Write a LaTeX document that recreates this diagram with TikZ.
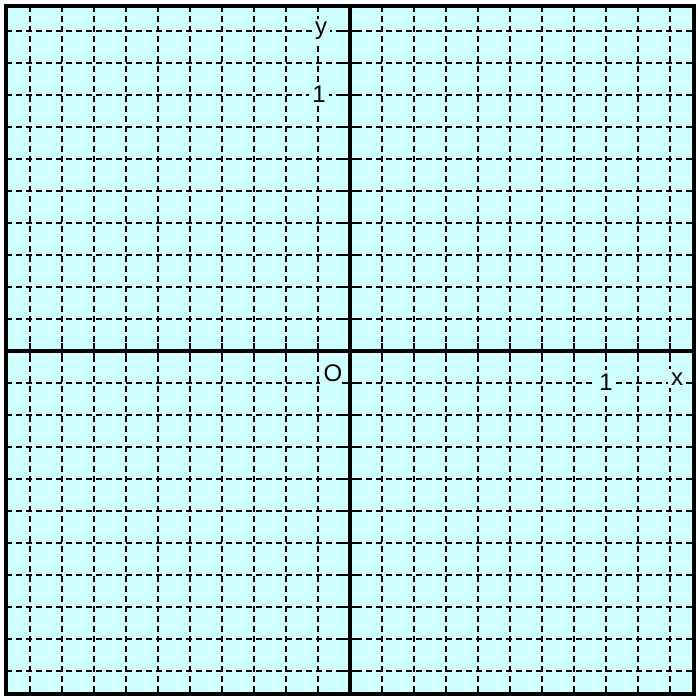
\documentclass[tikz,border=0pt]{standalone}
\usepackage{fontspec}
\setmainfont{Liberation Sans}
\definecolor{bgcyan}{RGB}{208,255,255}
\begin{document}
\begin{tikzpicture}[x=0.75pt,y=-0.75pt,
  gridline/.style={line width=1.9pt, dash pattern=on 4.5pt off 3pt},
  axisline/.style={line width=2.6pt},
  tickline/.style={line width=2.2pt},
  framebox/.style={line width=2.6pt},
  lbl/.style={fill=bgcyan, inner sep=2.5pt, anchor=base, font=\fontsize{18}{21}\selectfont}]
\useasboundingbox (0,0) rectangle (698,695);
\fill[bgcyan] (6,6) rectangle (694,694);
% grid
\foreach \k in {-10,...,10} {
  \draw[gridline] ({350+32*\k},6) -- ({350+32*\k},694);
  \draw[gridline] (6,{351+32*\k}) -- (694,{351+32*\k});
}
% labels
\node[lbl] (ylab) at (321,35) {y};
\node[lbl] (yone) at (319,103) {1};
\node[lbl] (orig) at (333,381) {O};
\node[lbl] (xone) at (606,390) {1};
\node[lbl] (xlab) at (677,385) {x};
% axes
\coordinate (xl) at (6,351);
\coordinate (xr) at (694,351);
\coordinate (yt) at (350,6);
\coordinate (yb) at (350,694);
\draw[axisline] (xl) -- (xr);
\draw[axisline] (yt) -- (yb);
% ticks
\foreach \k in {-10,...,-1,1,2,...,10} {
  \draw[tickline] ({350+32*\k},343) -- ({350+32*\k},359);
  \draw[tickline] (342,{351+32*\k}) -- (358,{351+32*\k});
}
% frame
\draw[framebox] (6,6) rectangle (694,694);
\end{tikzpicture}
\end{document}
